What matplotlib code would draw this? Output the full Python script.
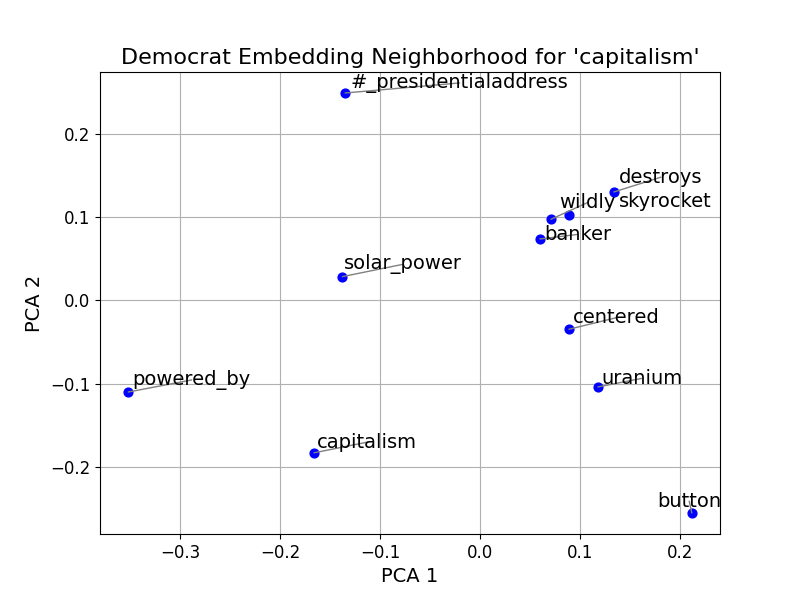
import matplotlib
matplotlib.use("Agg")
import matplotlib.pyplot as plt

words = ["#_presidentialaddress", "destroys", "wildly", "skyrocket", "banker",
         "solar_power", "centered", "uranium", "powered_by", "capitalism", "button"]
pca1 = [-0.135, 0.134, 0.071, 0.0893, 0.060, -0.1377, 0.089, 0.118, -0.352, -0.166, 0.212]
pca2 = [0.2492, 0.1303, 0.0975, 0.1027, 0.0739, 0.0286, -0.0346, -0.1039, -0.110, -0.183, -0.2553]

# where the labels ended up after being pushed apart
label_x = [-0.1293, 0.1393, 0.079, 0.1393, 0.064, -0.1357, 0.0927, 0.121, -0.3477, -0.1627, 0.1773]
label_y = [0.2553, 0.1415, 0.1107, 0.1127, 0.0727, 0.0375, -0.0274, -0.1003, -0.1015, -0.1768, -0.2477]
show_line = [True, True, True, False, True, True, True, True, True, True, True]

fig = plt.figure(figsize=(8, 6), dpi=100)
ax = fig.add_subplot(111)
ax.scatter(pca1, pca2, color='blue', s=40, zorder=3)

for i in range(len(words)):
    arrow = None
    if show_line[i]:
        arrow = dict(arrowstyle='-', color='gray', lw=1, patchA=None, shrinkA=0, shrinkB=0)
    ax.annotate(words[i], xy=(pca1[i], pca2[i]), xytext=(label_x[i], label_y[i]),
                fontsize=14, ha='left', va='baseline', arrowprops=arrow, zorder=4)

ax.set_title("Democrat Embedding Neighborhood for 'capitalism'", fontsize=16)
ax.set_xlabel("PCA 1", fontsize=14)
ax.set_ylabel("PCA 2", fontsize=14)
ax.tick_params(labelsize=12)
ax.grid(True)
ax.set_axisbelow(True)

fig.savefig("out.png")
